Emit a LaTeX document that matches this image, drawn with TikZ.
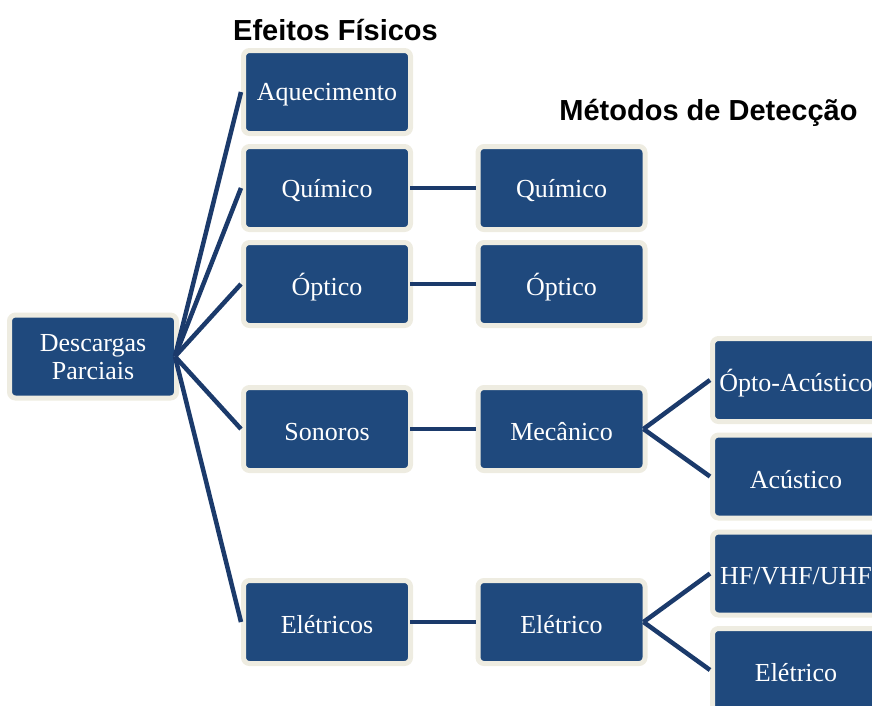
\documentclass[tikz,border=0pt]{standalone}
\usepackage{fontspec}
\setmainfont{Liberation Serif}
\newfontfamily\titlefont{Liberation Sans}
\definecolor{boxfill}{RGB}{31,73,125}
\definecolor{boxrim}{RGB}{238,236,225}
\definecolor{linkcol}{RGB}{27,58,107}
\newcommand\lowtxt[1]{\raisebox{-3pt}[\height][\depth]{#1}}
\tikzset{
  pbox/.style={draw=boxrim, line width=5pt, fill=boxfill, rounded corners=6pt,
    minimum width=167pt, minimum height=83pt, inner sep=0pt, text=white,
    align=center, font=\fontsize{26}{28}\selectfont},
  link/.style={draw=linkcol, line width=4.5pt},
  ttl/.style={anchor=base, inner sep=0pt, font=\titlefont\bfseries\fontsize{29}{32}\selectfont}
}
\begin{document}
\begin{tikzpicture}[x=1pt,y=-1pt]
\useasboundingbox (0,0) rectangle (872,705);
\clip (0,0) rectangle (872,705);
\node[ttl] (t1) at (335.5,40) {Efeitos Físicos};
\node[ttl] (t2) at (708.5,120) {Métodos de Detecção};
% root
\node[pbox] (dp) at (93,356.5) {\lowtxt{\begin{tabular}{@{}c@{}}Descargas\\Parciais\end{tabular}}};
% effects
\node[pbox] (aq) at (327,92) {\lowtxt{Aquecimento}};
\node[pbox] (qu) at (327,188) {\lowtxt{Químico}};
\node[pbox] (op) at (327,284) {\lowtxt{Óptico}};
\node[pbox] (so) at (327,429) {\lowtxt{Sonoros}};
\node[pbox] (el) at (327,622) {\lowtxt{Elétricos}};
% detection
\node[pbox] (dq) at (561.5,188) {\lowtxt{Químico}};
\node[pbox] (do) at (561.5,284) {\lowtxt{Óptico}};
\node[pbox] (dm) at (561.5,429) {\lowtxt{Mecânico}};
\node[pbox] (de) at (561.5,622) {\lowtxt{Elétrico}};
% right column
\node[pbox] (oa) at (796,380) {\lowtxt{Ópto-Acústico}};
\node[pbox] (ac) at (796,476.5) {\lowtxt{Acústico}};
\node[pbox] (hf) at (796,573.5) {\lowtxt{HF/VHF/UHF}};
\node[pbox] (ee) at (796,670) {\lowtxt{Elétrico}};
% connectors
\foreach \t in {aq,qu,op,so,el}
  \draw[link] ([xshift=-4pt]dp.east) -- (\t.west);
\draw[link] ([xshift=-3pt]qu.east) -- (dq.west);
\draw[link] ([xshift=-3pt]op.east) -- (do.west);
\draw[link] ([xshift=-3pt]so.east) -- (dm.west);
\draw[link] ([xshift=-3pt]el.east) -- (de.west);
\draw[link] ([xshift=-4pt]dm.east) -- (oa.west);
\draw[link] ([xshift=-4pt]dm.east) -- (ac.west);
\draw[link] ([xshift=-4pt]de.east) -- (hf.west);
\draw[link] ([xshift=-4pt]de.east) -- (ee.west);
\end{tikzpicture}
\end{document}
